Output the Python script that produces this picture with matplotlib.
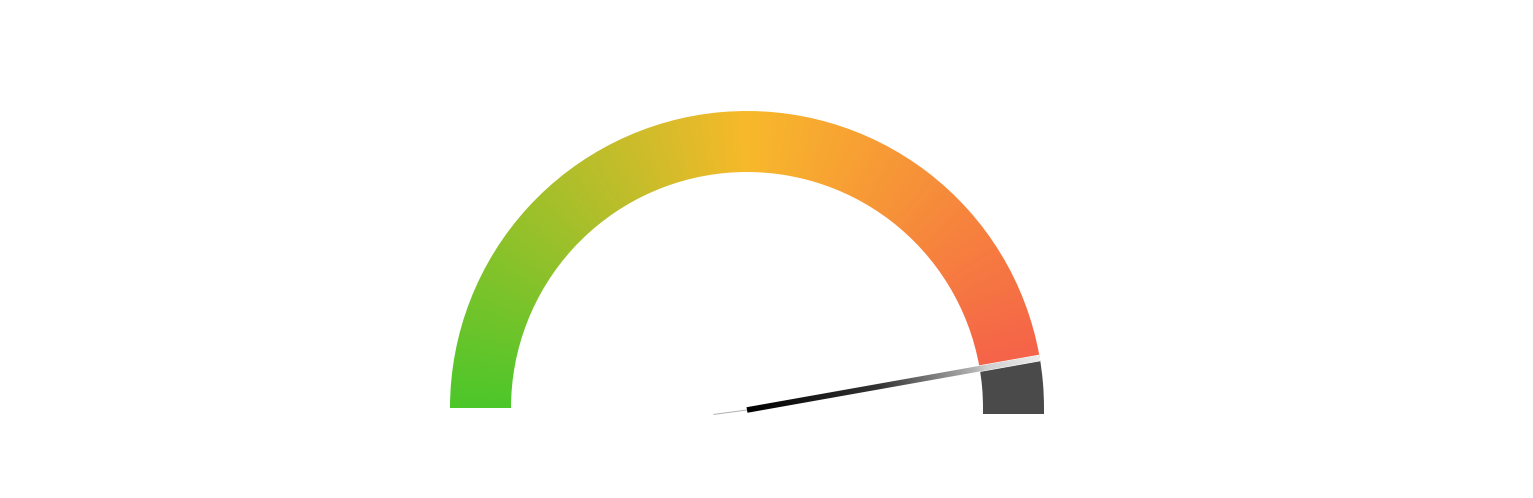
import numpy as np
import matplotlib
matplotlib.use('Agg')
import matplotlib.pyplot as plt
from matplotlib.patches import Wedge, Polygon, Rectangle
from matplotlib.colors import LinearSegmentedColormap

# Gauge data
gauge_min = 0
gauge_max = 100
gauge_value = 94.4

# colour stops along the arc (left -> right)
arc_stops = [0.0, 0.5, 1.0]
arc_colors = ['#4cc72a', '#f8b92b', '#f5584d']
track_color = '#4a4a4a'

# colour stops along the needle (hub -> tip)
needle_stops = [0.0, 0.45, 0.78, 0.82, 1.0]
needle_colors = ['#000000', '#333333', '#b3b3b3', '#d0d0d0', '#ececec']

###############################################################################

W, H = 1533, 498
cx, cy = 747, H - 408
r_out, r_in = 297, 236

fig = plt.figure(figsize=(W / 100, H / 100), dpi=100)
ax = fig.add_axes([0, 0, 1, 1])
ax.set_xlim(0, W)
ax.set_ylim(0, H)
ax.axis('off')

yy, xx = np.mgrid[0:H, 0:W] + 0.5

# Conic gradient on the filled part of the arc
ang = np.degrees(np.arctan2(yy - cy, xx - cx))
frac = np.clip((180 - ang) / 180, 0, 1)
arc_cmap = LinearSegmentedColormap.from_list('arc', list(zip(arc_stops, arc_colors)))
val_frac = (gauge_value - gauge_min) / (gauge_max - gauge_min)
val_ang = 180 - 180 * val_frac

img = ax.imshow(arc_cmap(frac), extent=(0, W, 0, H), origin='lower',
                interpolation='bilinear', zorder=1)
wedge = Wedge((cx, cy), r_out, val_ang, 180, width=r_out - r_in,
              transform=ax.transData)
img.set_clip_path(wedge)

# Remaining (unfilled) part of the track, with a flat foot a little below
ax.add_patch(Wedge((cx, cy), r_out, 0, val_ang, width=r_out - r_in,
                   fc=track_color, ec='none', zorder=2))
ax.add_patch(Rectangle((cx + r_in, cy - 6), r_out - r_in, 6.5,
                       fc=track_color, ec='none', zorder=2))

# Needle
th = np.radians(val_ang)
ux, uy = np.cos(th), np.sin(th)
nx, ny = -uy, ux
ncy = cy - 2


def needle_poly(r0, r1, hw):
    return [(cx + r0 * ux + hw * nx, ncy + r0 * uy + hw * ny),
            (cx + r1 * ux + hw * nx, ncy + r1 * uy + hw * ny),
            (cx + r1 * ux - hw * nx, ncy + r1 * uy - hw * ny),
            (cx + r0 * ux - hw * nx, ncy + r0 * uy - hw * ny)]


# thin white rim where the needle sits on the band
ax.add_patch(Polygon(needle_poly(r_in - 8, r_out + 0.5, 3.3), closed=True,
                     fc='white', ec='none', zorder=3))

t = np.clip(((xx - cx) * ux + (yy - ncy) * uy) / r_out, 0, 1)
needle_cmap = LinearSegmentedColormap.from_list('needle', list(zip(needle_stops, needle_colors)))
nimg = ax.imshow(needle_cmap(t), extent=(0, W, 0, H), origin='lower',
                 interpolation='bilinear', zorder=4)
npoly = Polygon(needle_poly(0, r_out, 2.8), closed=True, transform=ax.transData)
nimg.set_clip_path(npoly)

# thin tail behind the hub
ax.plot([cx, cx - 34 * ux], [ncy, ncy - 34 * uy + 1.5],
        color='#b0b0b0', lw=0.7, zorder=4, solid_capstyle='butt')

ax.set_xlim(0, W)
ax.set_ylim(0, H)
fig.savefig('out.png', dpi=100)
